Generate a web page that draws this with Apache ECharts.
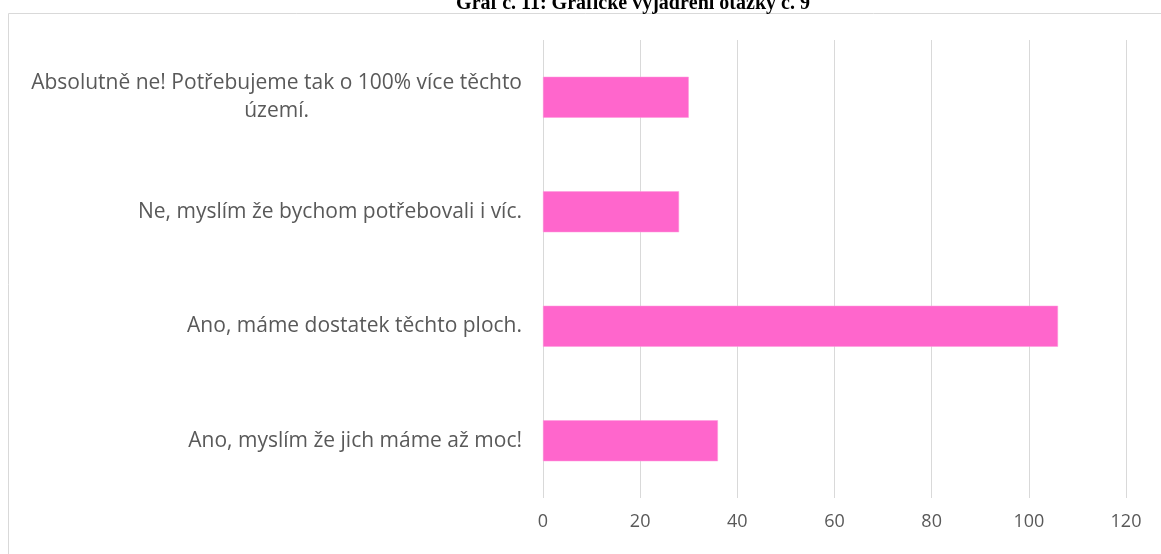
<!DOCTYPE html>
<html>
<head>
<meta charset="utf-8">
<script src="https://cdn.jsdelivr.net/npm/echarts@6/dist/echarts.min.js"></script>
<style>
  html, body { margin: 0; padding: 0; background: #fff; }
  #chart { width: 1161px; height: 554px; }
</style>
</head>
<body>
<div id="chart"></div>
<script>
const titleText = 'Graf č. 11: Grafické vyjádření otázky č. 9';
const categories = [
    'Absolutně ne! Potřebujeme tak o 100% více těchto\núzemí.',
    'Ne, myslím že bychom potřebovali i víc.',
    'Ano, máme dostatek těchto ploch.',
    'Ano, myslím že jich máme až moc!'
];
const counts = [30, 28, 106, 36];
const xTicks = { min: 0, max: 120, interval: 20 };

const labelColor = '#595959';
const chart = echarts.init(document.getElementById('chart'));

chart.setOption({
    animation: false,
    graphic: [
        {
            // chart area border (cut off at right and bottom)
            type: 'rect',
            shape: { x: 8.5, y: 13.5, width: 1170, height: 560 },
            style: { fill: 'none', stroke: '#d9d9d9', lineWidth: 1 }
        },
        {
            type: 'text',
            x: 633,
            y: -6,
            style: {
                text: titleText,
                fontFamily: 'Liberation Serif',
                fontWeight: 'bold',
                fontSize: 20,
                fill: '#000',
                align: 'center'
            }
        }
    ],
    grid: { left: 543, right: 35, top: 40, bottom: 56 },
    xAxis: {
        type: 'value',
        min: xTicks.min,
        max: xTicks.max,
        interval: xTicks.interval,
        axisLine: { show: false },
        axisTick: { show: false },
        splitLine: { lineStyle: { color: '#d9d9d9', width: 1 } },
        axisLabel: {
            color: labelColor,
            fontFamily: 'Open Sans',
            fontSize: 18,
            margin: 15
        }
    },
    yAxis: {
        type: 'category',
        inverse: true,
        data: categories,
        axisLine: { show: false },
        axisTick: { show: false },
        axisLabel: {
            margin: 21,
            align: 'right',
            formatter: v => v.split('\n').map(l => '{c|' + l + '}').join('\n'),
            rich: {
                c: {
                    align: 'center',
                    color: labelColor,
                    fontFamily: 'Open Sans',
                    fontSize: 21,
                    lineHeight: 28
                }
            }
        }
    },
    series: [
        {
            type: 'bar',
            data: counts,
            barWidth: 41,
            itemStyle: { color: '#FF66CC', borderColor: '#ff99dd', borderWidth: 0.5 }
        }
    ]
});
</script>
</body>
</html>
